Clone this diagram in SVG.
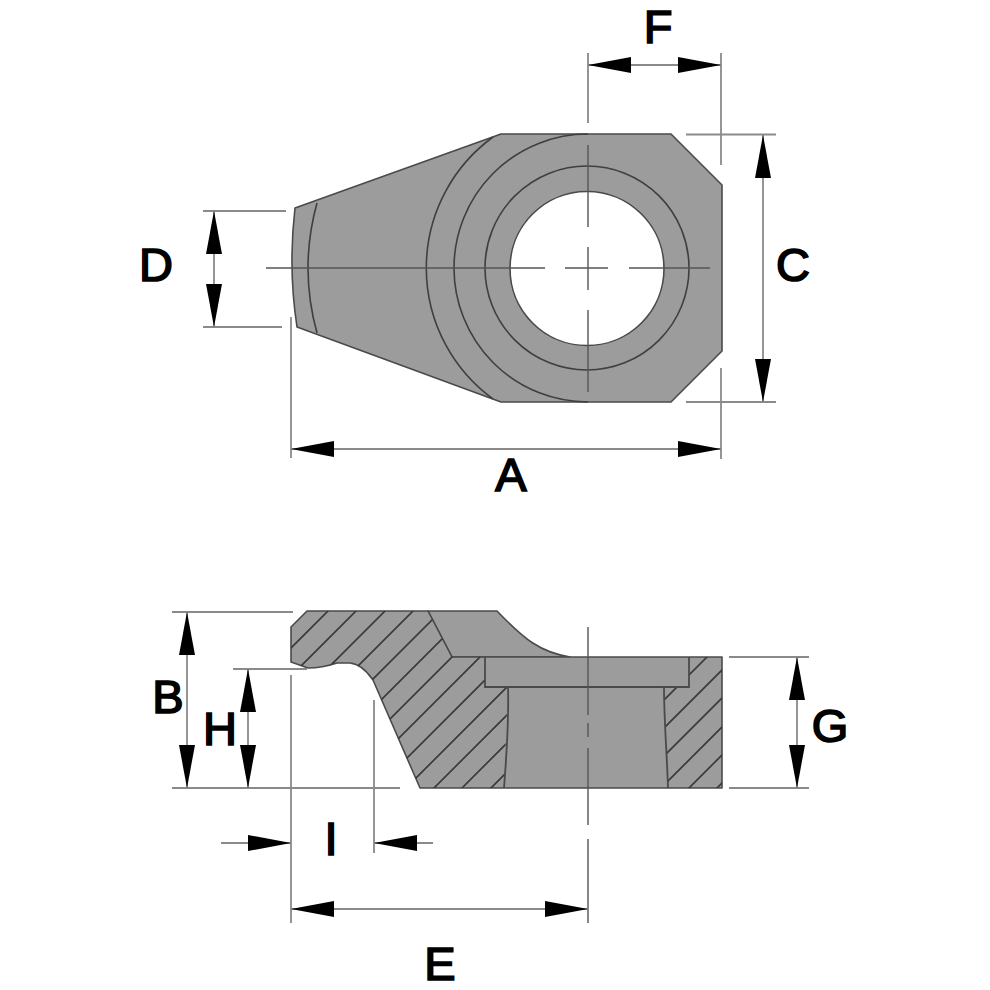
<svg xmlns="http://www.w3.org/2000/svg" width="990" height="990" viewBox="0 0 990 990">
<style>
.body{fill:#9c9c9c;stroke:#4a4a4a;stroke-width:1.6;stroke-linejoin:round}
.edge{fill:none;stroke:#4a4a4a;stroke-width:1.8}
.thin{fill:none;stroke:#3f3f3f;stroke-width:1.6}
.center{fill:none;stroke:#555;stroke-width:1.4}
.hatch{fill:none;stroke:#3a3a3a;stroke-width:1.7}
.ext{fill:none;stroke:#8a8a8a;stroke-width:1.8}
.dim{fill:none;stroke:#8a8a8a;stroke-width:1.8;marker-start:url(#arrow);marker-end:url(#arrow)}
.one{fill:none;stroke:#8a8a8a;stroke-width:1.8;marker-end:url(#arrow)}
text{font-family:"Liberation Sans",Arial,sans-serif;font-size:47px;fill:#000;stroke:#000;stroke-width:1.7;text-anchor:middle}
</style>
<defs>
<marker id="arrow" markerUnits="userSpaceOnUse" markerWidth="46" markerHeight="20" refX="43" refY="9" orient="auto-start-reverse" viewBox="0 0 46 18">
<path d="M43 9L0 1V17Z" fill="#000"/>
</marker>
<clipPath id="section">
<path d="M307 611H428L452 657H485V687H508L504 788H420L373 680Q362 664 350 663H337Q322 668 308 668L291 662V627Z"/>
<path d="M689 657H722V788H668L664 687H689Z"/>
</clipPath>
</defs>
<rect width="990" height="990" fill="#fff"/>

<g id="top-view">
<path class="body" fill-rule="evenodd" d="M501 134H671L722 185V351L671 402H501L297 327Q288 268 295 208ZM664 268.500A77 77 0 1 0 510 268.500A77 77 0 1 0 664 268.500Z"/>
<circle class="thin" cx="587" cy="268" r="102"/>
<path class="thin" d="M588 134A134 134 0 0 0 588 402"/>
<path class="thin" d="M493 137A162 162 0 0 0 493 399"/>
<path class="thin" d="M317 203Q299 268 317 333"/>
<path class="center" d="M266 268H545M565 268H608M629 268H710M588 145V227M588 247V290M588 310V392"/>
</g>

<g id="side-view">
<path class="body" d="M428 611H497C525 640 540 652 570 657H452Z"/>
<path class="body" d="M307 611H428L452 657H722V788H420L373 680Q362 664 350 663H337Q322 668 308 668L291 662V627Z"/>
<g clip-path="url(#section)">
<path class="hatch" d="M139 800L339 600M167 800L367 600M196 800L396 600M224 800L424 600M252 800L452 600M281 800L481 600M309 800L509 600M337 800L537 600M365 800L565 600M394 800L594 600M422 800L622 600M450 800L650 600M479 800L679 600M507 800L707 600M535 800L735 600M564 800L764 600M592 800L792 600M620 800L820 600M649 800L849 600M677 800L877 600M705 800L905 600"/>
</g>
<path class="edge" d="M485 657V687H689V657"/>
<path class="edge" d="M508 687C509 720 507 750 504 788M664 687C664 720 667 755 668 788"/>
<path class="center" d="M588 627V715M588 723V737M588 748V825M588 839V923"/>
</g>

<g id="connectors">
<path class="ext" d="M588 53V123M721 53V165M686 134.500H776M686 402H776M721 368V459M291 317V458M203 211H286M203 327H282"/>
<path class="ext" d="M172 612H293M172 788H400M233 669H307M291 675V923M374 700V853M729 657H809M729 788H809"/>
<path class="dim" d="M588 65H721"/>
<path class="dim" d="M763 135V402"/>
<path class="dim" d="M291 449H721"/>
<path class="dim" d="M214 211V327"/>
<path class="dim" d="M187 612V788"/>
<path class="dim" d="M248 669V788"/>
<path class="dim" d="M797 657V788"/>
<path class="dim" d="M291 909H588"/>
<path class="one" d="M221 843H291"/>
<path class="one" d="M433 843H374"/>
</g>

<g id="labels">
<text x="658" y="43">F</text>
<text x="793" y="281">C</text>
<text x="156" y="281">D</text>
<text x="511" y="491">A</text>
<text x="168" y="713">B</text>
<text x="220" y="745">H</text>
<text x="830" y="742">G</text>
<text x="331" y="855">I</text>
<text x="440" y="980">E</text>
</g>
</svg>
